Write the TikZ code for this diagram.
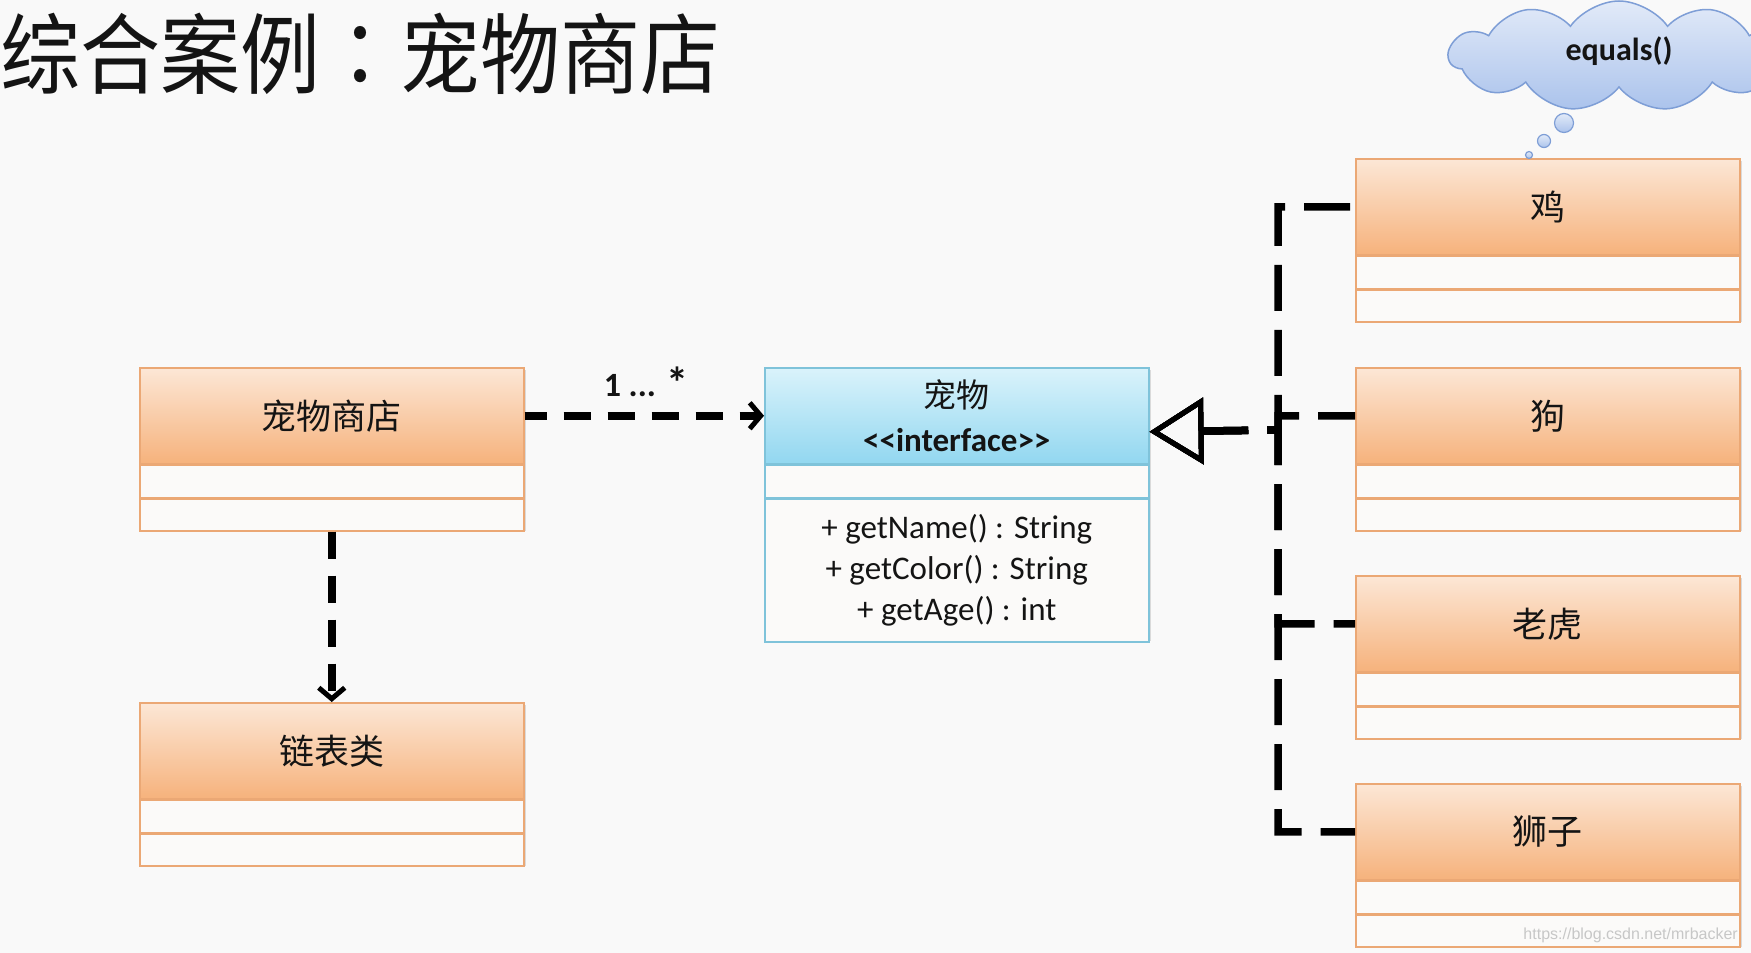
\documentclass[tikz,border=0pt]{standalone}
\usepackage{fontspec}
\usepackage{graphicx}
\setmainfont{Carlito}
\newfontfamily\cjk{Noto Sans CJK SC}
\newfontfamily\cjktc{Noto Sans CJK TC}
\newfontfamily\wmfont{Liberation Sans}
\usetikzlibrary{arrows.meta,shapes.symbols,calc}
\definecolor{bg}{HTML}{F9F9F9}
\definecolor{orbrd}{HTML}{EBA875}
\definecolor{ortop}{HTML}{FCE7D6}
\definecolor{orbot}{HTML}{F6B27C}
\definecolor{cybrd}{HTML}{7FC3DA}
\definecolor{cytop}{HTML}{DAF3FB}
\definecolor{cybot}{HTML}{92D7F0}
\definecolor{cmpfill}{HTML}{FBFAF9}
\definecolor{cldbrd}{HTML}{7E9ED6}
\definecolor{cldtop}{HTML}{E2EAF8}
\definecolor{cldbot}{HTML}{ABC3EC}
\definecolor{ink}{HTML}{141414}
\tikzset{
 hdr/.style={rectangle, inner sep=0pt, minimum width=384pt, minimum height=96pt, draw=orbrd, line width=1.5pt, top color=ortop, bottom color=orbot, text=ink, font=\cjk\fontsize{35}{40}\selectfont},
 cmp/.style={rectangle, inner sep=0pt, minimum width=384pt, minimum height=32pt, draw=orbrd, line width=1.5pt, fill=cmpfill},
 shd/.style={fill=black, opacity=0.12},
 dep/.style={line width=7.5pt, dash pattern=on 27pt off 17pt, -{Straight Barb[length=11pt,width=26pt,line width=5pt]}},
 real/.style={line width=7.5pt, dash pattern=on 46pt off 19pt, {Triangle[open,length=54pt,width=66pt,line width=5pt]}-},
 bubble/.style={circle, inner sep=0pt, draw=cldbrd, line width=1.2pt, top color=cldtop, bottom color=cldbot},
}
\newcommand{\classbox}[4]{%
  \fill[shd] ({#2+3},{#3+3}) rectangle ({#2+387},{#3+164});
  \node[hdr, anchor=north west] (#1) at (#2,#3) {#4};
  \node[cmp, anchor=north] (#1a) at (#1.south) {};
  \node[cmp, anchor=north] (#1b) at (#1a.south) {};
}
\begin{document}
\begin{tikzpicture}[x=1pt,y=-1pt]
\useasboundingbox (0,0) rectangle (1751,953);
\clip (0,0) rectangle (1751,953);
\fill[bg] (0,0) rectangle (1751,953);

% title
\node[anchor=base west, inner sep=0pt, text=ink, font=\cjk\fontsize{80}{80}\selectfont] (title) at (0,87) {\scalebox{1}[1.1]{综合案例{\cjktc ：}宠物商店}};

% classes
\classbox{store}{139}{367}{宠物商店}
\classbox{list}{139}{702}{链表类}
\classbox{chick}{1355}{158}{鸡}
\classbox{dog}{1355}{367}{狗}
\classbox{tiger}{1355}{575}{老虎}
\classbox{lion}{1355}{783}{狮子}

% interface
\fill[shd] (767,370) rectangle (1151,641);
\node[hdr, draw=cybrd, top color=cytop, bottom color=cybot, anchor=north west, align=center, font=\fontsize{33}{44}\selectfont] (pet) at (764,367) {{\cjk 宠物}\\{\bfseries <{}<interface>{}>}};
\node[cmp, draw=cybrd, anchor=north] (peta) at (pet.south) {};
\node[cmp, draw=cybrd, minimum height=143pt, anchor=north, align=center, text=ink, font=\fontsize{33}{41}\selectfont] (petb) at (peta.south) {+ getName() : String\\+ getColor() : String\\+ getAge() : int};

% dependencies
\draw[dep, dash phase=5pt] (store.east) -- (pet.west);
\node[anchor=base, inner sep=0pt, text=ink, font=\bfseries\fontsize{34}{34}\selectfont] (mult) at (646,396) {1 ... \raisebox{-2pt}{\scalebox{1.3}{*}}};
\draw[dep] (storeb.south) -- (list.north);

% realizations
\coordinate (petr) at ($(pet.east)+(0,16)$);
\coordinate (bus) at (1278,430);
\foreach \b in {chick,dog,tiger,lion} {
  \draw[real] (petr) -- (bus) |- (\b.west);
}

% thought cloud
\node[cloud, cloud puffs=11, cloud puff arc=110, aspect=3, minimum width=340pt, minimum height=110pt, draw=cldbrd, line width=1.5pt, top color=cldtop, bottom color=cldbot, inner sep=0pt] (cloud) at (1619,56) {};
\node[inner sep=0pt, text=ink, font=\bfseries\fontsize{32}{32}\selectfont] (eq) at (1619,51) {equals()};
\node[bubble, minimum size=19pt] (b1) at (1564,123) {};
\node[bubble, minimum size=13pt] (b2) at (1544,141) {};
\node[bubble, minimum size=7pt] (b3) at (1529,155) {};

% watermark
\node[anchor=east, inner sep=0pt, text=black!22, font=\wmfont\fontsize{16}{16}\selectfont] (wm) at (1738,935) {https://blog.csdn.net/mrbacker};
\end{tikzpicture}
\end{document}
